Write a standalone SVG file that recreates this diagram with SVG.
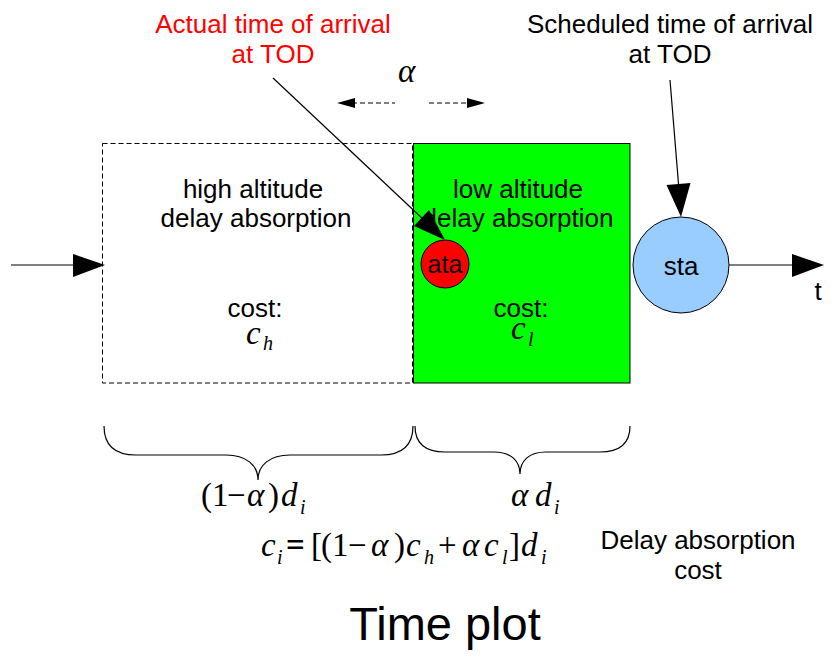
<svg xmlns="http://www.w3.org/2000/svg" width="838" height="659" viewBox="0 0 838 659">
  <style>
    .lbl { font-family: "Liberation Sans", Arial, sans-serif; font-size: 26px; fill: #000; }
    .red { fill: #ff0000; }
    .m { font-family: "Liberation Serif", "Times New Roman", serif; font-size: 33px; fill: #000; }
    .it { font-style: italic; }
    .sub { font-size: 20px; font-style: italic; }
    .line { stroke: #000; stroke-width: 1.2; fill: none; }
    .head { fill: #000; stroke: none; }
  </style>
  <rect width="838" height="659" fill="#ffffff"/>

  <!-- high altitude segment -->
  <g id="high-altitude">
    <rect x="102.5" y="143.5" width="310" height="239.5" fill="#ffffff" stroke="#000" stroke-width="1" stroke-dasharray="5 3"/>
    <text class="lbl" x="253" y="198" text-anchor="middle">high altitude</text>
    <text class="lbl" x="256" y="227" text-anchor="middle">delay absorption</text>
    <text class="lbl" x="255" y="317" text-anchor="middle">cost:</text>
    <text class="m"><tspan class="it" x="246" y="344">c</tspan><tspan class="sub" x="263" y="350">h</tspan></text>
  </g>

  <!-- low altitude segment -->
  <g id="low-altitude">
    <rect x="413.5" y="143.5" width="216.5" height="239.5" fill="#00ff00" stroke="#000" stroke-width="1"/>
    <text class="lbl" x="518" y="198" text-anchor="middle">low altitude</text>
    <text class="lbl" x="518" y="227" text-anchor="middle">delay absorption</text>
    <text class="lbl" x="521" y="317" text-anchor="middle">cost:</text>
    <text class="m"><tspan class="it" x="511" y="339">c</tspan><tspan class="sub" x="528" y="346">l</tspan></text>
  </g>

  <!-- actual time of arrival -->
  <g id="ata">
    <circle cx="445" cy="264" r="24" fill="#ff0000" stroke="#000" stroke-width="1"/>
    <text class="lbl" x="445" y="273" text-anchor="middle" style="font-size:25px">ata</text>
  </g>

  <!-- scheduled time of arrival -->
  <g id="sta">
    <circle cx="681" cy="265" r="48" fill="#99ccff" stroke="#000" stroke-width="1"/>
    <text class="lbl" x="681" y="275" text-anchor="middle">sta</text>
  </g>

  <g id="ata-label">
    <text class="lbl red" x="273" y="33" text-anchor="middle">Actual time of arrival</text>
    <text class="lbl red" x="273" y="63" text-anchor="middle">at TOD</text>
  </g>

  <g id="sta-label">
    <text class="lbl" x="670" y="33" text-anchor="middle">Scheduled time of arrival</text>
    <text class="lbl" x="670" y="63" text-anchor="middle">at TOD</text>
  </g>

  <g id="alpha-span">
    <text class="m it" x="398" y="82">α</text>
  </g>

  <g id="axis-label">
    <text class="lbl" x="818" y="300" text-anchor="middle">t</text>
  </g>

  <!-- connectors -->
  <g id="connectors">
    <!-- time axis -->
    <line class="line" x1="11" y1="265" x2="80" y2="265"/>
    <polygon class="head" points="73,254 105,265 73,277"/>
    <line class="line" x1="729" y1="265" x2="796" y2="265"/>
    <polygon class="head" points="792,254 824,265 792,277"/>
    <!-- label pointers -->
    <line class="line" x1="273" y1="78" x2="425" y2="221"/>
    <polygon class="head" points="414,226 445,240 429,210"/>
    <line class="line" x1="670" y1="80" x2="679" y2="190"/>
    <polygon class="head" points="666.5,185 681,217 690.5,183"/>
    <!-- alpha shift arrows -->
    <line class="line" x1="352" y1="103" x2="395" y2="103" stroke-dasharray="5 3"/>
    <polygon class="head" points="337,103 355,98 355,108"/>
    <line class="line" x1="429" y1="103" x2="470" y2="103" stroke-dasharray="5 3"/>
    <polygon class="head" points="485,103 467,98 467,108"/>
    <!-- braces -->
    <path class="line" d="M104,426 C104,446 115,455 136,455 L226,455 C246,455 258,465 258,480 C258,465 270,455 290,455 L381,455 C402,455 413,446 413,426"/>
    <path class="line" d="M415,426 C415,443 425,452 445,452 L494,452 C511,452 520,461 520,474 C520,461 529,452 546,452 L600,452 C620,452 630,443 630,426"/>
  </g>

  <!-- split expressions -->
  <g id="split-high">
    <text class="m"><tspan x="201" y="506">(</tspan><tspan x="212" y="506">1</tspan><tspan x="227" y="506">−</tspan><tspan class="it" x="247" y="506">α</tspan><tspan x="268" y="506">)</tspan><tspan class="it" x="281" y="506">d</tspan><tspan class="sub" x="300" y="514">i</tspan></text>
  </g>
  <g id="split-low">
    <text class="m"><tspan class="it" x="511" y="506">α</tspan><tspan class="it" x="535" y="506">d</tspan><tspan class="sub" x="554" y="514">i</tspan></text>
  </g>

  <g id="cost-formula">
    <text class="m"><tspan class="it" x="261" y="556">c</tspan><tspan class="sub" x="277" y="564">i</tspan><tspan x="286" y="556" font-weight="bold">=</tspan><tspan x="311" y="556">[</tspan><tspan x="321" y="556">(</tspan><tspan x="332" y="556">1</tspan><tspan x="348" y="556">−</tspan><tspan class="it" x="371" y="556">α</tspan><tspan x="394" y="556">)</tspan><tspan class="it" x="406" y="556">c</tspan><tspan class="sub" x="424" y="564">h</tspan><tspan x="438" y="556">+</tspan><tspan class="it" x="462" y="556">α</tspan><tspan class="it" x="484" y="556">c</tspan><tspan class="sub" x="502" y="564">l</tspan><tspan x="509" y="556">]</tspan><tspan class="it" x="521" y="556">d</tspan><tspan class="sub" x="541" y="564">i</tspan></text>
    <text class="lbl" x="698" y="549" text-anchor="middle">Delay absorption</text>
    <text class="lbl" x="698" y="579" text-anchor="middle">cost</text>
  </g>

  <text class="lbl" x="445" y="640" text-anchor="middle" style="font-size:47px">Time plot</text>
</svg>
